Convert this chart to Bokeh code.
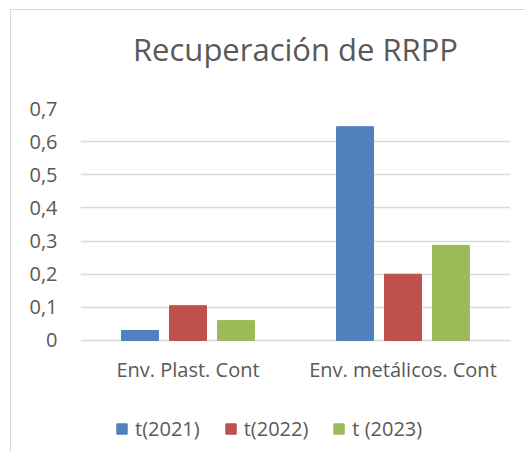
from bokeh.plotting import figure
from bokeh.models import ColumnDataSource, FactorRange, FixedTicker, Legend, LegendItem, Title
from bokeh.transform import dodge
from bokeh.embed import file_html
from bokeh.resources import INLINE

categories = ["Env. Plast. Cont", "Env. metálicos. Cont"]
series_names = ["t(2021)", "t(2022)", "t (2023)"]
t2021 = [0.03, 0.645]
t2022 = [0.105, 0.20]
t2023 = [0.06, 0.287]
y_ticks = [0, 0.1, 0.2, 0.3, 0.4, 0.5, 0.6, 0.7]
y_tick_labels = ["0", "0,1", "0,2", "0,3", "0,4", "0,5", "0,6", "0,7"]
colors = ["#4F81BD", "#C0504D", "#9BBB59"]

FONT = "Open Sans"
TXT = "#595959"

src = ColumnDataSource(dict(cat=categories, a=t2021, b=t2022, c=t2023))

# frame extends below the zero line to host the category labels and the legend
p = figure(frame_width=430, frame_height=344, x_range=FactorRange(*categories, range_padding=0),
           y_range=(-0.338, 0.7), output_backend="svg", toolbar_location=None,
           min_border_left=69, min_border_right=15, min_border_top=98, min_border_bottom=0)
p.margin = (9, 0, 0, 10)
p.styles = {"border-top": "1px solid #D9D9D9", "border-left": "1px solid #D9D9D9"}

title = Title(text="Recuperación de RRPP\n\u00a0", align="center", text_font=FONT,
              text_font_size="31px", text_font_style="normal", text_color=TXT,
              text_line_height=0.9, standoff=2)
p.add_layout(title, "above")

renderers = []
for field, off, col in zip(["a", "b", "c"], [-0.223, 0.0, 0.223], colors):
    r = p.vbar(x=dodge("cat", off, range=p.x_range), top=field, width=0.172, source=src,
               fill_color=col, line_color=col)
    renderers.append(r)

p.outline_line_color = None
p.background_fill_color = "white"
p.border_fill_color = "white"
p.xgrid.grid_line_color = None
p.ygrid.grid_line_color = "#D9D9D9"
p.ygrid.grid_line_width = 1.3

p.yaxis.ticker = FixedTicker(ticks=y_ticks)
p.yaxis.major_label_overrides = {t: l for t, l in zip(y_ticks, y_tick_labels)}
p.yaxis.axis_line_color = None
p.yaxis.major_tick_line_color = None
p.yaxis.minor_tick_line_color = None
p.yaxis.major_label_standoff = 17
p.yaxis.major_label_text_font = FONT
p.yaxis.major_label_text_font_size = "20px"
p.yaxis.major_label_text_color = TXT

p.xaxis.fixed_location = 0
p.xaxis.axis_line_color = None
p.xaxis.major_tick_line_color = None
p.xaxis.major_label_standoff = 10
p.xaxis.major_label_text_font = FONT
p.xaxis.major_label_text_font_size = "20px"
p.xaxis.major_label_text_color = TXT

legend = Legend(items=[LegendItem(label=n, renderers=[r]) for n, r in zip(series_names, renderers)],
                orientation="horizontal", location=(35, 10),
                label_text_font=FONT, label_text_font_size="20px", label_text_color=TXT,
                glyph_width=13, glyph_height=13, spacing=24, label_standoff=7,
                border_line_color=None, background_fill_alpha=0, margin=0, padding=4)
p.add_layout(legend, "center")

open("out.html", "w").write(file_html(p, INLINE))
